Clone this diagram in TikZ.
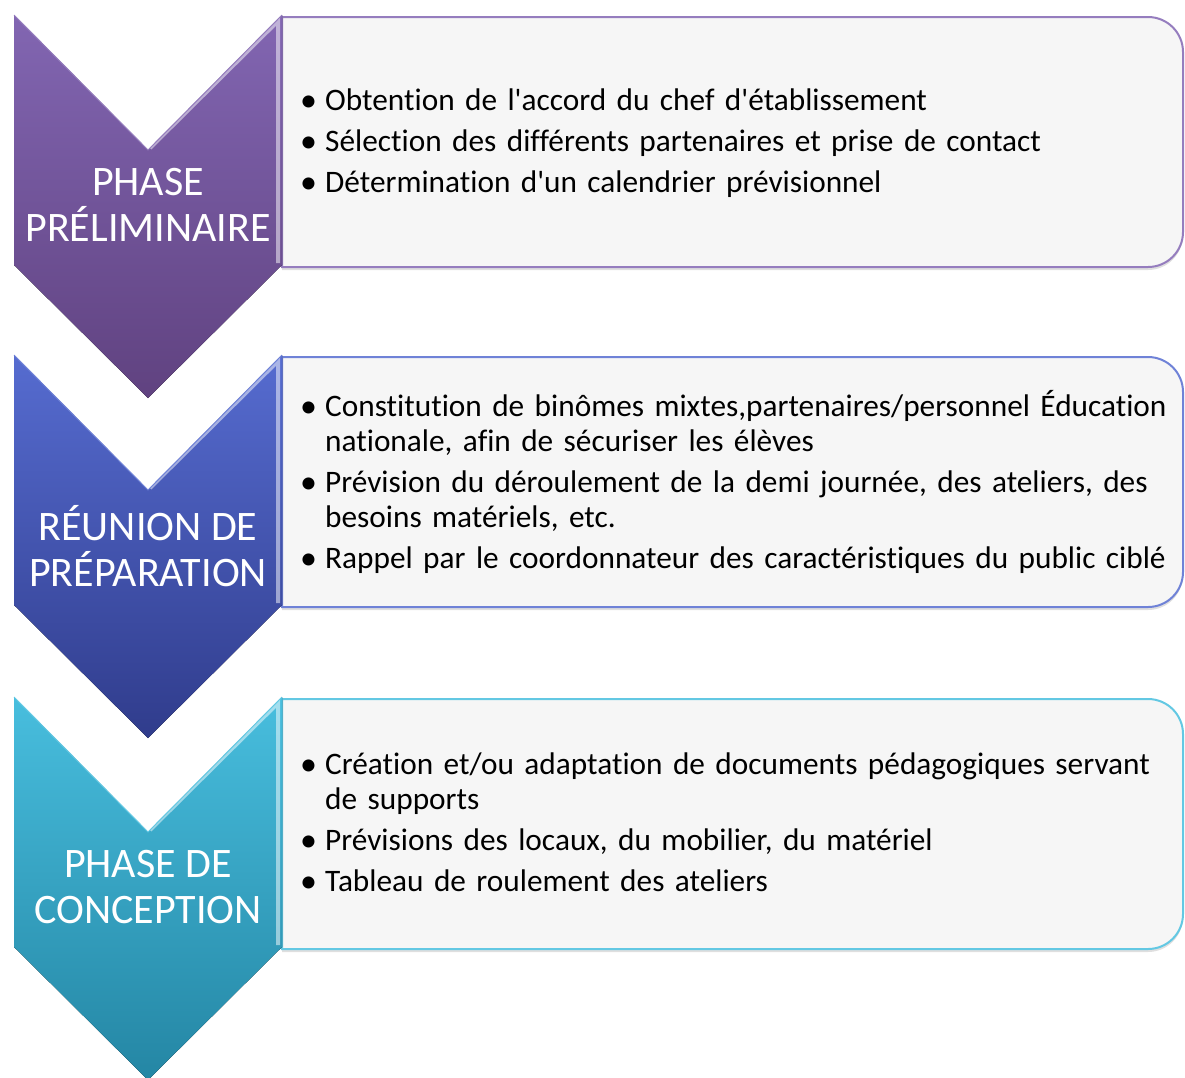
\documentclass[tikz,border=0pt]{standalone}
\usepackage{fontspec}
\setmainfont{Carlito}[Ligatures={NoCommon}]
\usetikzlibrary{shadows}
\definecolor{violet}{RGB}{130,102,178}
\definecolor{violet-darker}{RGB}{96,66,128}
\definecolor{bleu}{RGB}{86,108,208}
\definecolor{bleu-darker}{RGB}{48,60,140}
\definecolor{turquoise}{RGB}{72,190,222}
\definecolor{turquoise-darker}{RGB}{36,134,164}
\definecolor{fond}{RGB}{246,246,246}
\colorlet{violet-lighter}{violet!85!white}
\colorlet{bleu-lighter}{bleu!85!white}
\colorlet{turquoise-lighter}{turquoise!85!white}
\newcommand{\puce}[1]{\par\hangindent=25pt\hangafter=1\noindent\makebox[25pt][l]{\raisebox{-1pt}{\fontsize{34}{35}\selectfont\textbullet}}#1}

\begin{document}
\begin{tikzpicture}[x=1pt, y=-1pt,
    etiquette/.style={text=white, align=center, inner sep=0pt, font=\fontsize{42}{46}\selectfont},
    liste/.style={anchor=west, text width=900pt, inner sep=0pt, align=left,
        font=\fontsize{31.3}{35}\selectfont\setlength{\parskip}{6pt}}]

    \useasboundingbox (0,0) rectangle (1185,1077);

    % boites et chevrons
    \foreach \y/\c in {15/violet, 355/bleu, 697/turquoise}{
        \draw[line width=2pt, draw=\c-lighter, fill=fond,
            drop shadow={shadow xshift=0pt, shadow yshift=-3pt, opacity=0.25}]
            (282,\y+2) [rounded corners=35pt] -- (1183,\y+2) -- (1183,\y+252) [sharp corners] -- (282,\y+252) -- cycle;
        \fill[top color=\c, bottom color=\c-darker]
            (14,\y) -- (148,\y+135) -- (282,\y) -- (282,\y+250) -- (148,\y+383) -- (14,\y+250) -- cycle;
        \draw[white, opacity=0.5, line width=4pt] (150,\y+133) -- (278,\y+6) -- (278,\y+248);
        \draw[\c-lighter, line width=1pt] (14,\y) -- (148,\y+135) -- (282,\y);
    }

    \node[etiquette] (phase-1) at (148,205) {PHASE\\PRÉLIMINAIRE};
    \node[etiquette] (phase-2) at (148,546) {RÉUNION DE\\PRÉPARATION};
    \node[etiquette] (phase-3) at (148,887) {PHASE DE\\CONCEPTION};

    \node[liste] (liste-1) at (300,134) {%
        \puce{Obtention de l\textquotesingle accord du chef d\textquotesingle établissement}
        \puce{Sélection des différents partenaires et prise de contact}
        \puce{Détermination d\textquotesingle un calendrier prévisionnel}};
    \node[liste] (liste-2) at (300,475) {%
        \puce{Constitution de binômes mixtes,partenaires/personnel Éducation\newline nationale, afin de sécuriser les élèves}
        \puce{Prévision du déroulement de la demi journée, des ateliers, des\newline besoins matériels, etc.}
        \puce{Rappel par le coordonnateur des caractéristiques du public ciblé}};
    \node[liste] (liste-3) at (300,813) {%
        \puce{Création et/ou adaptation de documents pédagogiques servant\newline de supports}
        \puce{Prévisions des locaux, du mobilier, du matériel}
        \puce{Tableau de roulement des ateliers}};

\end{tikzpicture}
\end{document}
